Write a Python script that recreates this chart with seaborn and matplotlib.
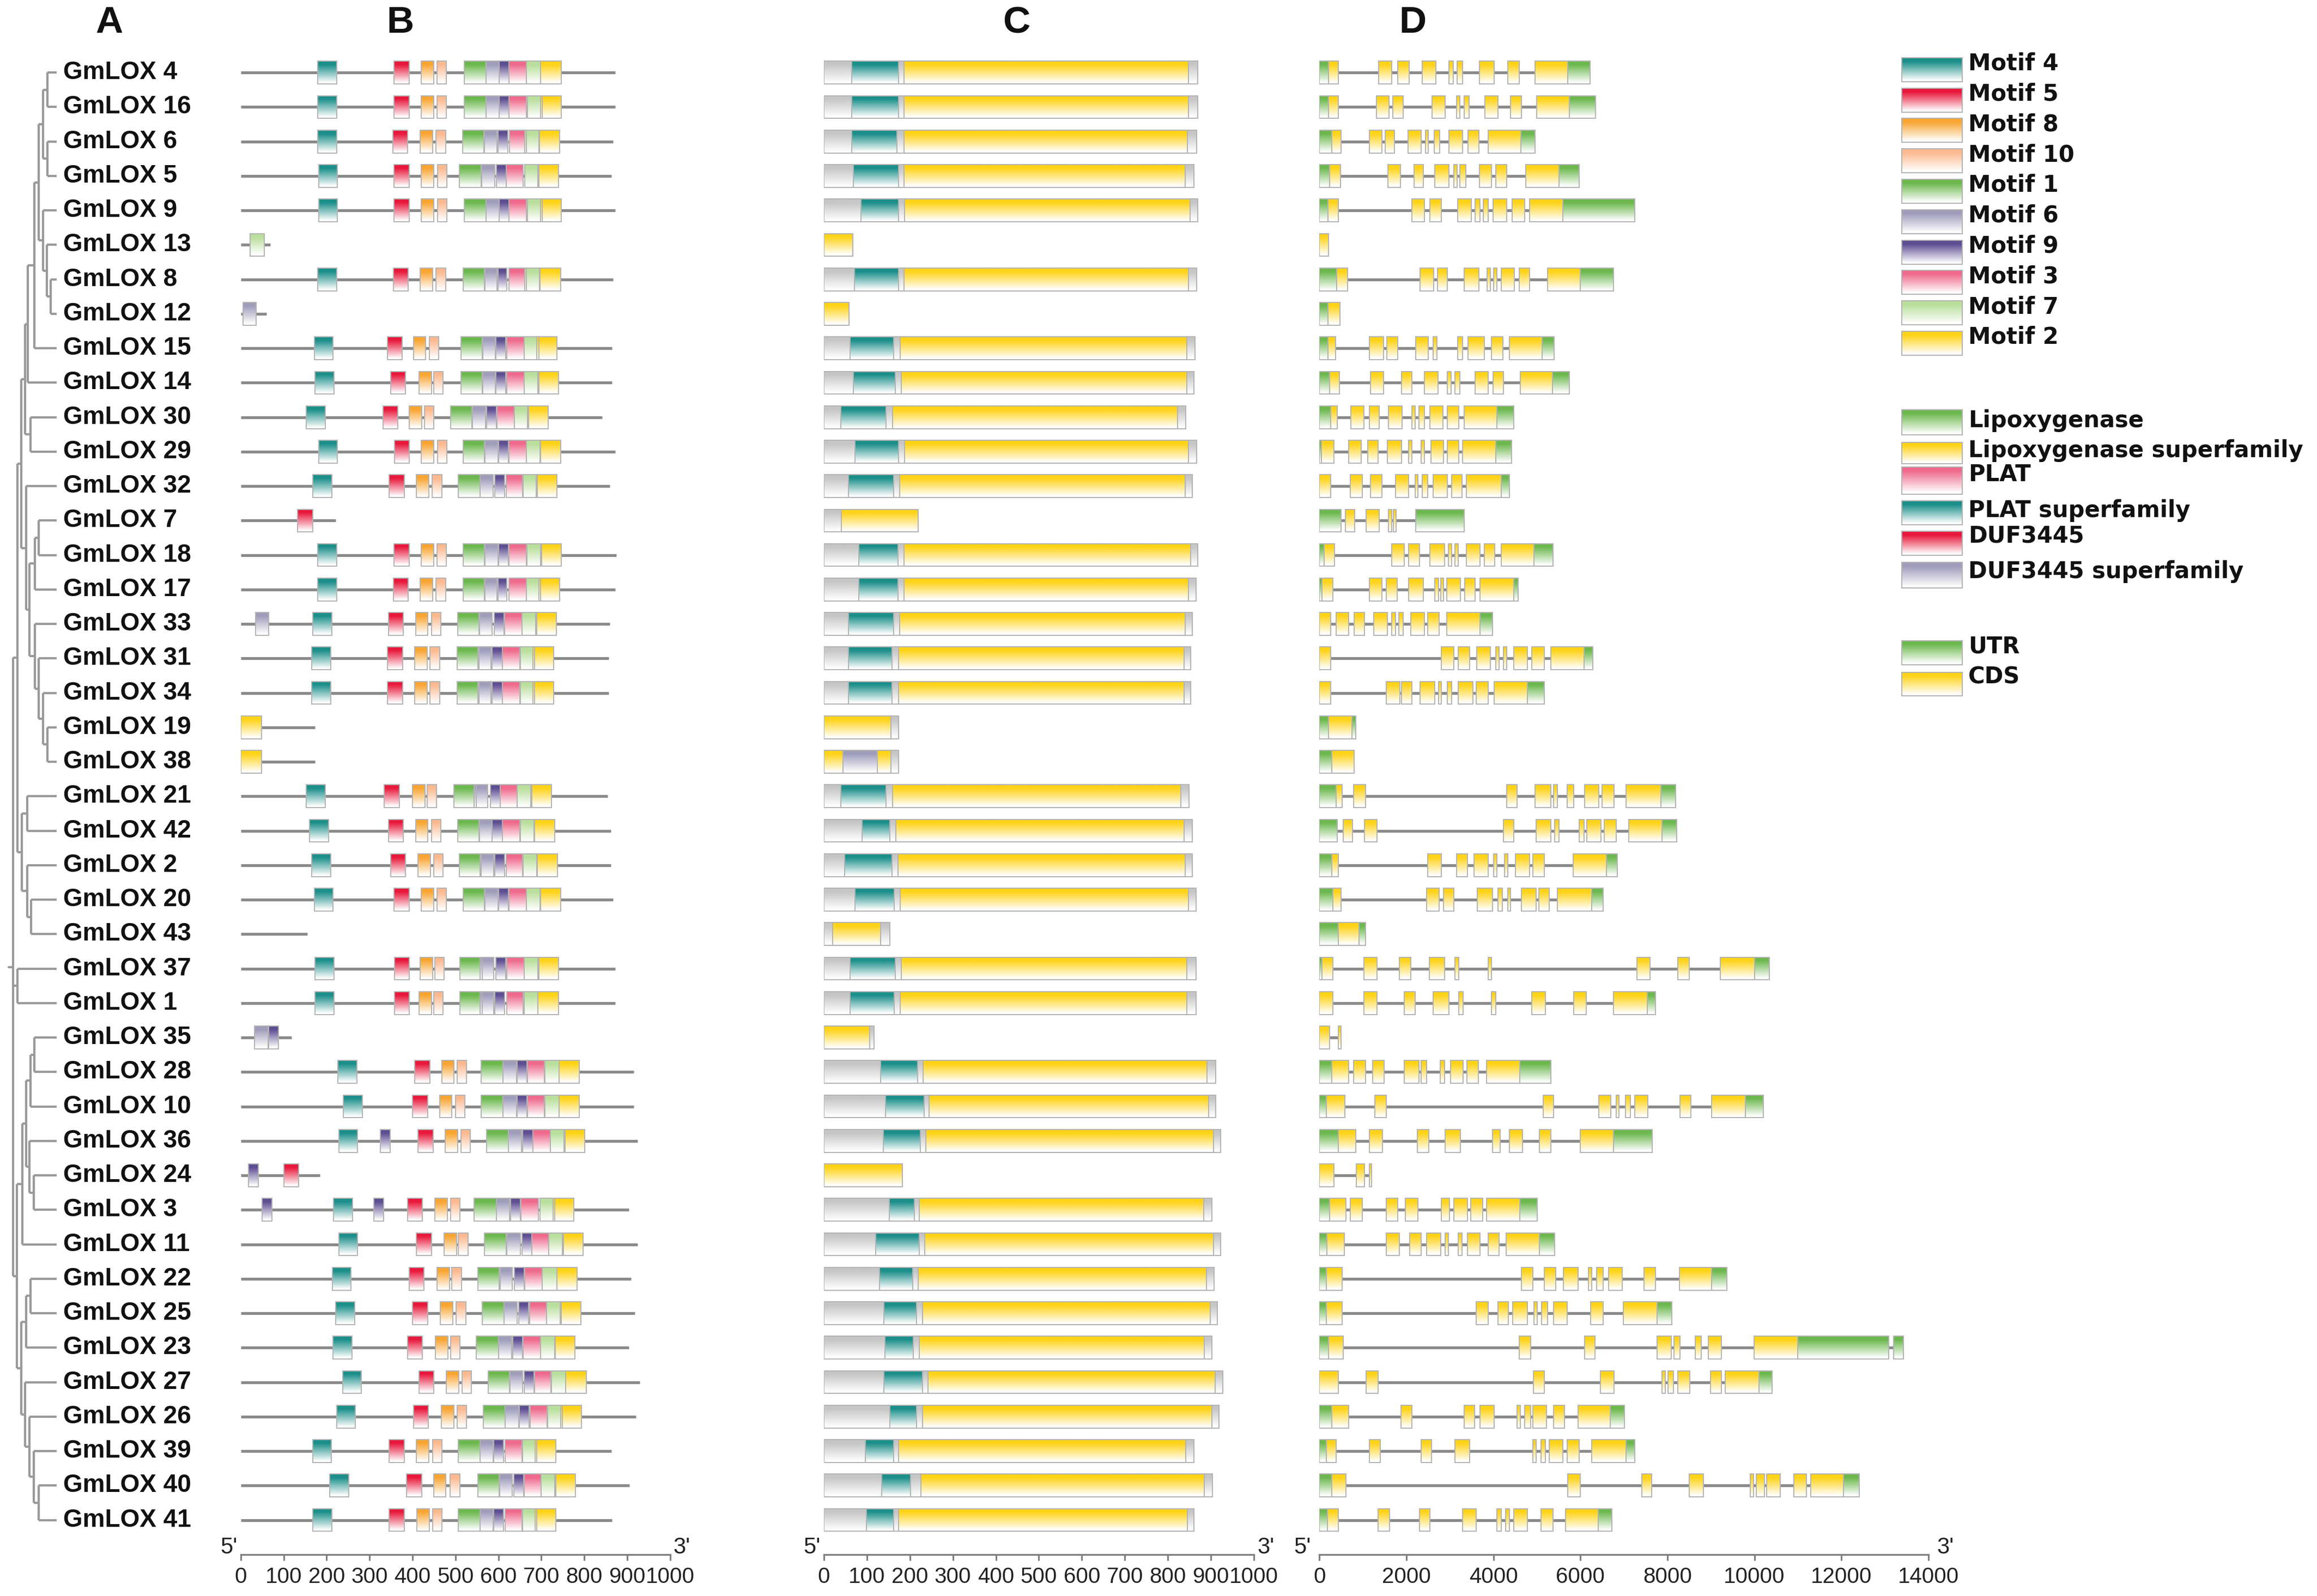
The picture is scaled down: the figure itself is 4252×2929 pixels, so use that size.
import numpy as np
import matplotlib
matplotlib.use("Agg")
import matplotlib.pyplot as plt
import matplotlib.colors as mcolors
from matplotlib.patches import Rectangle
import seaborn as sns

# ---------------------------------------------------------------- data
GENES = ["GmLOX 4", "GmLOX 16", "GmLOX 6", "GmLOX 5", "GmLOX 9", "GmLOX 13",
         "GmLOX 8", "GmLOX 12", "GmLOX 15", "GmLOX 14", "GmLOX 30", "GmLOX 29",
         "GmLOX 32", "GmLOX 7", "GmLOX 18", "GmLOX 17", "GmLOX 33", "GmLOX 31",
         "GmLOX 34", "GmLOX 19", "GmLOX 38", "GmLOX 21", "GmLOX 42", "GmLOX 2",
         "GmLOX 20", "GmLOX 43", "GmLOX 37", "GmLOX 1", "GmLOX 35", "GmLOX 28",
         "GmLOX 10", "GmLOX 36", "GmLOX 24", "GmLOX 3", "GmLOX 11", "GmLOX 22",
         "GmLOX 25", "GmLOX 23", "GmLOX 27", "GmLOX 26", "GmLOX 39", "GmLOX 40",
         "GmLOX 41"]

# tree (node depth, leaves = row numbers)
TREE = (62, [
    (88, [
        (110, [
            (135, [
                (150, [
                    (188, [
                        (215, [
                            (240, [(265, [1, 2]), (265, [3, 4])]),
                            (240, [5, (262, [6, (285, [7, 8])])]),
                        ]),
                        9,
                    ]),
                    10,
                ]),
                (165, [11, 12]),
            ]),
            (140, [13,
                   (160, [
                       (190, [(215, [14, 15]), 16]),
                       (190, [17, (215, [18, (240, [19, (265, [20, 21])])])]),
                   ])]),
        ]),
        (115, [(145, [22, 23]), (145, [24, (170, [25, 26])])]),
    ]),
    (90, [27, 28]),
    (85, [
        (118, [(140, [(165, [(188, [29, 30]), 31]),
                      (160, [32, (185, [33, 34])])]), 35]),
        (110, [(140, [(165, [36, 37]), 38]),
               (135, [39, (160, [40, (185, [41, (215, [42, 43])])])])]),
    ]),
])
TREE_ROOT_X = 38
TREE_LEAF_X = 318

# panel B: protein length and motif start positions (aa)
b_len = [873, 873, 867, 863, 873, 68, 867, 60, 865, 865, 842, 873, 860, 221,
         875, 873, 860, 857, 857, 173, 173, 855, 862, 862, 867, 155, 873, 873,
         118, 915, 915, 925, 184, 904, 925, 909, 918, 904, 930, 921, 863, 905, 865]

N = None
motif_start = {
    "Motif 4": [179, 179, 179, 181, 181, N, 179, N, 171, 173, 153, 181, 168, N, 179, 179,
                168, 165, 165, N, N, 153, 160, 165, 171, N, 173, 173, N, 226, 239, 228,
                N, 216, 228, 213, 221, 215, 237, 223, 167, 207, 168],
    "Motif 5": [357, 357, 354, 357, 357, N, 355, N, 341, 349, 331, 358, 346, 132, 357, 355,
                344, 342, 342, N, N, 334, 344, 349, 357, N, 358, 358, N, 405, 400, 413,
                100, 388, 409, 392, 400, 388, 415, 402, 346, 386, 346],
    "Motif 8": [420, 420, 418, 420, 420, N, 418, N, 402, 415, 392, 420, 409, N, 420, 418,
                407, 405, 405, N, N, 400, 407, 413, 420, N, 418, 415, N, 468, 463, 476,
                N, 452, 474, 457, 465, 453, 479, 467, 409, 449, 410],
    "Motif 10": [457, 457, 455, 458, 458, N, 455, N, 439, 449, 428, 458, 446, N, 457, 455,
                 444, 441, 441, N, N, 434, 444, 449, 457, N, 452, 449, N, 504, 500, 513,
                 N, 489, 507, 492, 502, 489, 515, 504, 447, 488, 447],
    "Motif 1": [520, 520, 517, 509, 520, N, 518, N, 513, 513, 489, 518, 507, N, 518, 518,
                505, 504, 504, N, N, 497, 505, 509, 518, N, 511, 511, N, 560, 560, 573,
                N, 544, 568, 553, 562, 549, 576, 565, 507, 552, 507],
    "Motif 6": [571, 571, 566, 561, 571, N, 568, 5, 562, 562, 539, 568, 557, N, 568, 568,
                555, 552, 552, N, N, 544, 555, 558, 568, N, 558, 558, 32, 611, 611, 623,
                N, 595, 620, 602, 613, 600, 626, 616, 557, 602, 557],
    "Motif 9": [602, 602, 599, 595, 602, N, 597, N, 594, 594, 573, 600, 592, N, 600, 597,
                590, 586, 586, N, N, 581, 586, 592, 600, N, 594, 592, 65, 644, 644, 657,
                18, 628, 655, 637, 647, 634, 660, 649, 589, 636, 589],
    "Motif 3": [625, 625, 626, 618, 625, N, 625, N, 620, 620, 597, 625, 618, N, 625, 625,
                615, 610, 610, N, N, 604, 610, 618, 625, N, 620, 620, N, 668, 668, 681,
                N, 653, 678, 662, 673, 658, 684, 674, 616, 660, 616],
    "Motif 7": [665, 668, 662, 661, 668, 21, 662, N, 660, 660, 637, 665, 657, N, 667, 665,
                655, 651, 651, N, N, 644, 651, 657, 665, N, 660, 658, N, 707, 707, 721,
                N, 697, 718, 702, 713, 699, 723, 715, 655, 700, 655],
    "Motif 2": [699, 699, 695, 692, 699, N, 697, N, 689, 692, 668, 697, 688, N, 699, 695,
                687, 681, 681, 0, 0, 676, 683, 690, 697, N, 692, 692, N, 741, 741, 753,
                N, 728, 749, 736, 744, 731, 757, 746, 686, 732, 686],
}
motif_width = {"Motif 4": 44, "Motif 5": 35, "Motif 8": 29, "Motif 10": 22,
               "Motif 1": 51, "Motif 6": 31, "Motif 9": 23, "Motif 3": 40,
               "Motif 7": 34, "Motif 2": 48}
b_extra = [("GmLOX 33", "Motif 6", 34), ("GmLOX 36", "Motif 9", 325),
           ("GmLOX 3", "Motif 9", 49), ("GmLOX 3", "Motif 9", 310)]

# panel C: conserved domains (aa)
c_len = [869, 869, 867, 860, 869, 67, 867, 59, 863, 861, 841, 867, 857, 219, 869,
         865, 857, 853, 853, 174, 174, 849, 857, 857, 865, 153, 865, 865, 117, 911,
         911, 923, 183, 902, 923, 907, 915, 902, 927, 919, 860, 903, 861]
c_plat = [(65, 174), (65, 174), (65, 170), (69, 174), (86, 174), N, (71, 174), N,
          (61, 162), (69, 166), (40, 145), (73, 174), (57, 162), N, (81, 172),
          (81, 172), (57, 162), (57, 158), (57, 158), N, N, (40, 145), (89, 154),
          (49, 158), (73, 164), N, (61, 166), (61, 164), N, (132, 218), (144, 233),
          (138, 225), N, (152, 210), (120, 222), (130, 207), (140, 215), (142, 208),
          (140, 229), (154, 216), (97, 162), (134, 202), (99, 162)]
c_lox = [(186, 848), (186, 848), (186, 845), (186, 840), (188, 852), (0, 67),
         (186, 848), (0, 59), (178, 844), (180, 844), (160, 822), (188, 848),
         (176, 840), (41, 219), (186, 853), (186, 848), (176, 840), (174, 837),
         (174, 837), (0, 156), (0, 156), (160, 830), (168, 837), (172, 840),
         (178, 848), (21, 132), (180, 844), (178, 844), (0, 107), (231, 891),
         (245, 895), (237, 906), (0, 183), (222, 883), (234, 906), (219, 889),
         (229, 899), (222, 885), (242, 910), (230, 902), (174, 841), (226, 885),
         (174, 845)]
c_duf_sup = {"GmLOX 38": (45, 124)}

# panel D: gene structure (bp), U = UTR, C = CDS
d_exons = [
    [(0, 210, "U"), (210, 440, "C"), (1360, 1660, "C"), (1800, 2065, "C"), (2365, 2680, "C"), (2980, 3075, "C"), (3165, 3285, "C"), (3685, 4015, "C"), (4325, 4590, "C"), (4960, 5715, "C"), (5715, 6220, "U")],
    [(0, 210, "U"), (210, 440, "C"), (1310, 1600, "C"), (1690, 1925, "C"), (2595, 2890, "C"), (3155, 3225, "C"), (3330, 3445, "C"), (3805, 4105, "C"), (4395, 4650, "C"), (5000, 5750, "C"), (5750, 6345, "U")],
    [(0, 280, "U"), (280, 500, "C"), (1145, 1440, "C"), (1510, 1730, "C"), (2040, 2345, "C"), (2435, 2505, "C"), (2635, 2770, "C"), (2980, 3295, "C"), (3420, 3665, "C"), (3885, 4630, "C"), (4630, 4960, "U")],
    [(0, 235, "U"), (235, 485, "C"), (1580, 1865, "C"), (2170, 2390, "C"), (2655, 2980, "C"), (3095, 3165, "C"), (3225, 3360, "C"), (3685, 3955, "C"), (4060, 4305, "C"), (4740, 5510, "C"), (5510, 5975, "U")],
    [(0, 195, "U"), (195, 440, "C"), (2125, 2415, "C"), (2540, 2805, "C"), (3180, 3490, "C"), (3580, 3690, "C"), (3770, 3885, "C"), (3990, 4305, "C"), (4430, 4720, "C"), (4835, 5600, "C"), (5600, 7245, "U")],
    [(0, 210, "C")],
    [(0, 395, "U"), (395, 650, "C"), (2320, 2630, "C"), (2715, 2945, "C"), (3330, 3665, "C"), (3860, 3930, "C"), (4000, 4080, "C"), (4175, 4475, "C"), (4590, 4835, "C"), (5250, 5995, "C"), (5995, 6760, "U")],
    [(0, 195, "U"), (195, 475, "C")],
    [(0, 195, "U"), (195, 370, "C"), (1145, 1470, "C"), (1555, 1800, "C"), (2215, 2505, "C"), (2610, 2700, "C"), (3180, 3295, "C"), (3420, 3795, "C"), (3955, 4220, "C"), (4370, 5115, "C"), (5115, 5395, "U")],
    [(0, 235, "U"), (235, 455, "C"), (1180, 1470, "C"), (1890, 2125, "C"), (2415, 2725, "C"), (2945, 3025, "C"), (3120, 3225, "C"), (3580, 3885, "C"), (3990, 4235, "C"), (4615, 5360, "C"), (5360, 5750, "U")],
    [(0, 260, "U"), (260, 415, "C"), (725, 1020, "C"), (1145, 1380, "C"), (1590, 1900, "C"), (2130, 2205, "C"), (2285, 2420, "C"), (2545, 2835, "C"), (2940, 3200, "C"), (3325, 4085, "C"), (4085, 4470, "U")],
    [(0, 50, "U"), (50, 330, "C"), (675, 965, "C"), (1110, 1350, "C"), (1560, 1890, "C"), (2055, 2130, "C"), (2340, 2410, "C"), (2565, 2855, "C"), (2940, 3200, "C"), (3295, 4050, "C"), (4050, 4415, "U")],
    [(0, 260, "C"), (705, 985, "C"), (1175, 1435, "C"), (1745, 2055, "C"), (2205, 2265, "C"), (2370, 2495, "C"), (2620, 2940, "C"), (3045, 3275, "C"), (3375, 4175, "C"), (4175, 4365, "U")],
    [(0, 500, "U"), (600, 810, "C"), (1070, 1380, "C"), (1590, 1660, "C"), (1695, 1765, "C"), (2215, 3325, "U")],
    [(0, 105, "U"), (105, 345, "C"), (1660, 1955, "C"), (2055, 2305, "C"), (2545, 2880, "C"), (2960, 3035, "C"), (3115, 3190, "C"), (3375, 3690, "C"), (3790, 4030, "C"), (4175, 4935, "C"), (4935, 5370, "U")],
    [(0, 60, "U"), (60, 310, "C"), (1145, 1435, "C"), (1540, 1785, "C"), (2045, 2390, "C"), (2650, 2735, "C"), (2785, 2855, "C"), (2930, 3240, "C"), (3345, 3585, "C"), (3690, 4470, "C"), (4470, 4570, "U")],
    [(0, 260, "C"), (385, 675, "C"), (800, 1040, "C"), (1245, 1560, "C"), (1660, 1745, "C"), (1820, 1920, "C"), (2100, 2420, "C"), (2495, 2755, "C"), (2930, 3690, "C"), (3690, 3980, "U")],
    [(0, 260, "C"), (2805, 3095, "C"), (3190, 3450, "C"), (3615, 3925, "C"), (4050, 4125, "C"), (4230, 4310, "C"), (4470, 4780, "C"), (4885, 5165, "C"), (5320, 6080, "C"), (6080, 6285, "U")],
    [(0, 260, "C"), (1540, 1850, "C"), (1890, 2130, "C"), (2315, 2650, "C"), (2735, 2805, "C"), (2940, 3045, "C"), (3190, 3535, "C"), (3605, 3875, "C"), (4020, 4780, "C"), (4780, 5175, "U")],
    [(0, 210, "U"), (210, 750, "C"), (750, 830, "U")],
    [(0, 280, "U"), (280, 800, "C")],
    [(0, 385, "U"), (385, 520, "C"), (780, 1060, "C"), (4310, 4550, "C"), (4955, 5320, "C"), (5380, 5475, "C"), (5695, 5850, "C"), (6100, 6420, "C"), (6495, 6775, "C"), (7045, 7845, "C"), (7845, 8185, "U")],
    [(0, 415, "U"), (550, 760, "C"), (1040, 1320, "C"), (4230, 4470, "C"), (4985, 5320, "C"), (5405, 5505, "C"), (5975, 6080, "C"), (6150, 6475, "C"), (6545, 6825, "C"), (7115, 7875, "C"), (7875, 8210, "U")],
    [(0, 280, "U"), (280, 435, "C"), (2495, 2805, "C"), (3150, 3410, "C"), (3555, 3875, "C"), (4000, 4075, "C"), (4260, 4335, "C"), (4500, 4830, "C"), (4905, 5175, "C"), (5840, 6600, "C"), (6600, 6855, "U")],
    [(0, 310, "U"), (310, 500, "C"), (2460, 2755, "C"), (2855, 3095, "C"), (3635, 3980, "C"), (4105, 4210, "C"), (4335, 4395, "C"), (4645, 4985, "C"), (5040, 5280, "C"), (5475, 6255, "C"), (6255, 6525, "U")],
    [(0, 435, "U"), (435, 915, "C"), (915, 1060, "U")],
    [(0, 60, "U"), (60, 310, "C"), (1020, 1330, "C"), (1840, 2100, "C"), (2525, 2880, "C"), (3115, 3200, "C"), (3875, 3950, "C"), (7305, 7605, "C"), (8240, 8500, "C"), (9215, 10005, "C"), (10005, 10340, "U")],
    [(0, 310, "C"), (1020, 1330, "C"), (1945, 2205, "C"), (2620, 2980, "C"), (3200, 3305, "C"), (3950, 4050, "C"), (4885, 5195, "C"), (5850, 6130, "C"), (6755, 7535, "C"), (7535, 7720, "U")],
    [(0, 230, "C"), (435, 500, "C")],
    [(0, 290, "U"), (290, 675, "C"), (780, 1060, "C"), (1225, 1485, "C"), (1945, 2285, "C"), (2340, 2460, "C"), (2775, 2880, "C"), (3015, 3305, "C"), (3395, 3655, "C"), (3845, 4605, "C"), (4605, 5320, "U")],
    [(0, 155, "U"), (155, 590, "C"), (1280, 1540, "C"), (5145, 5380, "C"), (6420, 6700, "C"), (6825, 6890, "C"), (7035, 7150, "C"), (7250, 7555, "C"), (8290, 8540, "C"), (9020, 9790, "C"), (9790, 10205, "U")],
    [(0, 435, "U"), (435, 830, "C"), (1145, 1455, "C"), (2255, 2515, "C"), (2890, 3240, "C"), (3980, 4155, "C"), (4365, 4675, "C"), (5060, 5320, "C"), (5995, 6755, "C"), (6755, 7655, "U")],
    [(0, 330, "C"), (850, 1040, "C"), (1150, 1195, "C")],
    [(0, 230, "U"), (230, 605, "C"), (705, 985, "C"), (1540, 1795, "C"), (1975, 2265, "C"), (2805, 2990, "C"), (3085, 3410, "C"), (3480, 3760, "C"), (3845, 4605, "C"), (4605, 5010, "U")],
    [(0, 175, "U"), (175, 570, "C"), (1540, 1840, "C"), (2080, 2340, "C"), (2460, 2785, "C"), (2890, 2960, "C"), (3190, 3275, "C"), (3410, 3690, "C"), (3875, 4135, "C"), (4290, 5060, "C"), (5060, 5405, "U")],
    [(0, 155, "U"), (155, 520, "C"), (4645, 4905, "C"), (5175, 5435, "C"), (5610, 5945, "C"), (6180, 6265, "C"), (6370, 6525, "C"), (6650, 6960, "C"), (7460, 7720, "C"), (8280, 9020, "C"), (9020, 9370, "U")],
    [(0, 155, "U"), (155, 520, "C"), (3605, 3875, "C"), (4105, 4345, "C"), (4445, 4780, "C"), (4935, 5010, "C"), (5110, 5245, "C"), (5380, 5695, "C"), (6235, 6525, "C"), (6990, 7760, "C"), (7760, 8105, "U")],
    [(0, 210, "U"), (210, 550, "C"), (4590, 4860, "C"), (6100, 6340, "C"), (7760, 8085, "C"), (8155, 8290, "C"), (8645, 8780, "C"), (8935, 9245, "C"), (9995, 10990, "C"), (10990, 13090, "U"), (13195, 13425, "U")],
    [(0, 435, "C"), (1070, 1350, "C"), (4915, 5175, "C"), (6460, 6775, "C"), (7875, 7950, "C"), (8020, 8135, "C"), (8240, 8520, "C"), (8985, 9245, "C"), (9330, 10100, "C"), (10100, 10410, "U")],
    [(0, 290, "U"), (290, 675, "C"), (1870, 2130, "C"), (3325, 3565, "C"), (3690, 4020, "C"), (4550, 4625, "C"), (4725, 4860, "C"), (4905, 5225, "C"), (5380, 5630, "C"), (5945, 6680, "C"), (6680, 7015, "U")],
    [(0, 155, "U"), (155, 385, "C"), (1145, 1405, "C"), (2340, 2575, "C"), (3115, 3450, "C"), (4905, 4985, "C"), (5090, 5195, "C"), (5280, 5590, "C"), (5695, 5975, "C"), (6265, 7045, "C"), (7045, 7250, "U")],
    [(0, 280, "U"), (280, 605, "C"), (5715, 5995, "C"), (7410, 7635, "C"), (8500, 8830, "C"), (9900, 9975, "C"), (10045, 10235, "C"), (10285, 10600, "C"), (10910, 11200, "C"), (11295, 12050, "C"), (12050, 12415, "U")],
    [(0, 185, "U"), (185, 435, "C"), (1350, 1610, "C"), (2305, 2545, "C"), (3295, 3605, "C"), (4085, 4185, "C"), (4280, 4365, "C"), (4470, 4780, "C"), (5090, 5370, "C"), (5660, 6410, "C"), (6410, 6720, "U")],
]

# ---------------------------------------------------------------- style
TEAL, RED, ORANGE, PEACH = "#1c8f8a", "#e8193c", "#f9a533", "#fcb98f"
GREEN, LAV, PURPLE, PINK = "#6cb84e", "#a09dbb", "#5e4e92", "#ef6a8c"
LGREEN, YELLOW, BGGREY = "#b9df9c", "#ffd318", "#c6c6c6"
LINE = "#8a8a8a"
TREE_LINE = "#9a9a9a"
EDGE = "#b3b3b3"

motif_color = {"Motif 4": TEAL, "Motif 5": RED, "Motif 8": ORANGE,
               "Motif 10": PEACH, "Motif 1": GREEN, "Motif 6": LAV,
               "Motif 9": PURPLE, "Motif 3": PINK, "Motif 7": LGREEN,
               "Motif 2": YELLOW}
domain_legend = [("Lipoxygenase", GREEN), ("Lipoxygenase superfamily", YELLOW),
                 ("PLAT", PINK), ("PLAT superfamily", TEAL),
                 ("DUF3445", RED), ("DUF3445 superfamily", LAV)]
structure_legend = [("UTR", GREEN), ("CDS", YELLOW)]

sns.set_theme(style="white")
plt.rcParams["font.family"] = ["Liberation Sans", "DejaVu Sans"]

_grad_cache = {}


def grad_img(color, n=48):
    if color not in _grad_cache:
        c = np.array(mcolors.to_rgb(color))
        t = np.linspace(0, 1, n)[:, None]
        f = np.clip((0.95 - t) / 0.8, 0, 1)
        img = 1 - (1 - c) * f
        _grad_cache[color] = np.repeat(img[:, None, :], 2, axis=1)
    return _grad_cache[color]


def gbox(ax, x0, x1, yc, h, color, lw=0.7):
    ax.imshow(grad_img(color), extent=(x0, x1, yc + h / 2, yc - h / 2),
              aspect="auto", interpolation="bilinear", zorder=3)
    ax.add_patch(Rectangle((x0, yc - h / 2), x1 - x0, h, fill=False,
                           ec=EDGE, lw=lw, zorder=4))


W, H = 4252, 2929
fig = plt.figure(figsize=(W / 200, H / 200), dpi=200)
fig.patch.set_facecolor("white")

BOT, HGT = 0.02602, 0.95011
BOX_H = 0.66
NROW = len(GENES)

axT = fig.add_axes([0.00102, BOT, 0.02494, HGT])
axB = fig.add_axes([0.10395, BOT, 0.18521, HGT])
axC = fig.add_axes([0.35555, BOT, 0.18565, HGT])
axD = fig.add_axes([0.56945, BOT, 0.26282, HGT])
axL = fig.add_axes([0.8163, 0, 0.1837, 1])

# ---------------------------------------------------------------- A: tree
def draw_tree(ax, node):
    if isinstance(node, int):
        return float(node), TREE_LEAF_X
    x, kids = node
    ys = []
    for k in kids:
        y, kx = draw_tree(ax, k)
        ax.plot([x, kx], [y, y], color=TREE_LINE, lw=1.5, solid_capstyle="butt")
        ys.append(y)
    ax.plot([x, x], [min(ys), max(ys)], color=TREE_LINE, lw=1.5, solid_capstyle="butt")
    return (min(ys) + max(ys)) / 2, x


yroot, xroot = draw_tree(axT, TREE)
axT.plot([TREE_ROOT_X, xroot], [yroot, yroot], color=TREE_LINE, lw=1.5)
for i, g in enumerate(GENES):
    axT.text(358, i + 1, g, ha="left", va="center", fontsize=16.5,
             fontweight="bold", color="#111111", clip_on=False)
axT.set_xlim(0, 340)
axT.set_ylim(NROW + 1, 0)
axT.axis("off")

# ---------------------------------------------------------------- B: motifs
for i, g in enumerate(GENES):
    y = i + 1
    axB.plot([0, b_len[i]], [y, y], color=LINE, lw=1.9, solid_capstyle="butt", zorder=1)
    for m, starts in motif_start.items():
        s = starts[i]
        if s is not None:
            gbox(axB, s, s + motif_width[m], y, BOX_H, motif_color[m])
for g, m, s in b_extra:
    gbox(axB, s, s + motif_width[m], GENES.index(g) + 1, BOX_H, motif_color[m])

# ---------------------------------------------------------------- C: domains
for i, g in enumerate(GENES):
    y = i + 1
    gbox(axC, 0, c_len[i], y, BOX_H, BGGREY)
    if c_plat[i] is not None:
        gbox(axC, c_plat[i][0], c_plat[i][1], y, BOX_H, TEAL)
    gbox(axC, c_lox[i][0], c_lox[i][1], y, BOX_H, YELLOW)
    if g in c_duf_sup:
        s, e = c_duf_sup[g]
        gbox(axC, s, e, y, BOX_H, LAV)

# ---------------------------------------------------------------- D: gene structure
for i, g in enumerate(GENES):
    y = i + 1
    exons = d_exons[i]
    end = max(e for _, e, _ in exons)
    axD.plot([0, end], [y, y], color=LINE, lw=1.9, solid_capstyle="butt", zorder=1)
    for s, e, kind in exons:
        gbox(axD, s, e, y, BOX_H, GREEN if kind == "U" else YELLOW)

# ---------------------------------------------------------------- axes cosmetics
for ax, xmax, step in [(axB, 1000, 100), (axC, 1000, 100), (axD, 14000, 2000)]:
    ax.set_xlim(0, xmax)
    ax.set_ylim(NROW + 1, 0)
    ax.set_yticks([])
    ax.set_xticks(np.arange(0, xmax + 1, step))
    ax.set_facecolor("white")
    sns.despine(ax=ax, left=True)
    ax.spines["bottom"].set_color("#808080")
    ax.spines["bottom"].set_linewidth(1.2)
    ax.tick_params(axis="x", bottom=True, direction="out", length=4, width=1.1,
                   color="#808080", pad=4, labelsize=14.5, labelcolor="#222222")
    off = xmax * 0.028
    ax.text(-off, NROW + 0.8, "5'", ha="center", va="center", fontsize=15, color="#222222")
    ax.text(xmax + off, NROW + 0.8, "3'", ha="center", va="center", fontsize=15, color="#222222")

# panel letters
for letter, xd in [("A", 74), ("B", 271), ("C", 688), ("D", 956)]:
    fig.text(xd / 1568, 1 - 15.5 / 1080, letter, ha="center", va="center",
             fontsize=25, fontweight="bold", color="#111111")

# ---------------------------------------------------------------- legends
axL.set_xlim(1280, 1568)
axL.set_ylim(1080, 0)
axL.axis("off")
LEG_FONT = dict(family="DejaVu Sans", fontweight="bold", fontsize=15, color="#111111")
for k, m in enumerate(motif_start):
    gbox(axL, 1287, 1328, 47.1 + 20.58 * k, 16.2, motif_color[m])
    axL.text(1332, 43.0 + 20.58 * k, m, ha="left", va="center", **LEG_FONT)

dom_sw = [(277.2, 294.3), (299.3, 313.9), (316.0, 334.5), (338.9, 355.1),
          (359.5, 375.7), (380.7, 397.8)]
dom_ty = [284.5, 305.1, 321.3, 345.4, 363.0, 386.9]
for (lab, col), (t0, t1), ty in zip(domain_legend, dom_sw, dom_ty):
    gbox(axL, 1287, 1328, (t0 + t1) / 2, t1 - t0, col)
    axL.text(1332, ty, lab, ha="left", va="center", **LEG_FONT)

str_sw = [(433.6, 450.0), (455.0, 471.0)]
str_ty = [437.5, 458.0]
for (lab, col), (t0, t1), ty in zip(structure_legend, str_sw, str_ty):
    gbox(axL, 1287, 1328, (t0 + t1) / 2, t1 - t0, col)
    axL.text(1332, ty, lab, ha="left", va="center", **LEG_FONT)
axL.set_xlim(1280, 1568)
axL.set_ylim(1080, 0)

fig.savefig("out.png", dpi=200, facecolor="white")
